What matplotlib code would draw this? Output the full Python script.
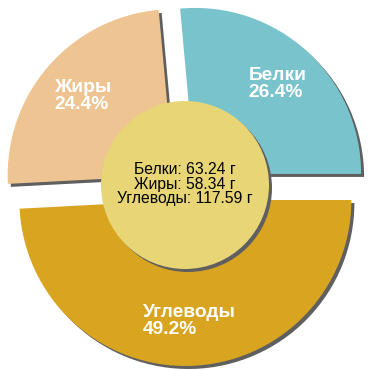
import matplotlib
matplotlib.use("Agg")
import matplotlib.pyplot as plt
from matplotlib.patches import Circle
import math

names = ["Белки", "Жиры", "Углеводы"]
grams = [63.24, 58.34, 117.59]
colors = ["#79c3cc", "#edc492", "#d9a521"]
center_color = "#e8d676"
shadow_color = "#5f5f5f"

plt.rcParams['font.family'] = ['Liberation Sans', 'DejaVu Sans']

fig = plt.figure(figsize=(3.7, 3.7), dpi=100)
ax = fig.add_axes([0, 0, 1, 1])

C = (185, 185)
R = 166
expl = [15, 15, 15]
sh = (3, -3)

# shadow
ax.pie(grams, colors=[shadow_color] * 3, explode=expl, radius=R,
       center=(C[0] + sh[0], C[1] + sh[1]), startangle=0,
       wedgeprops=dict(linewidth=0), frame=True)
wedges, _ = ax.pie(grams, colors=colors, explode=expl, radius=R, center=C,
                   startangle=0, wedgeprops=dict(linewidth=0), frame=True)

ax.set_xlim(0, 370)
ax.set_ylim(0, 370)
ax.set_aspect('equal')
ax.axis('off')

total = sum(grams)
for w, n, g in zip(wedges, names, grams):
    tm = math.radians((w.theta1 + w.theta2) / 2)
    cx, cy = w.center
    d = 0.73 * R
    ax.text(cx + d * math.cos(tm) + 1, cy + d * math.sin(tm),
            f"{n}\n{g / total * 100:.1f}%", ha='center', va='center',
            multialignment='left', color='white', fontweight='bold',
            fontsize=13.8, linespacing=1.0, zorder=5)

cr = 84
ax.add_patch(Circle((C[0] + sh[0], C[1] + sh[1]), cr, color=shadow_color,
                    linewidth=0, zorder=3))
ax.add_patch(Circle(C, cr, color=center_color, linewidth=0, zorder=4))

ctext = "\n".join(f"{n}: {g:.2f} г" for n, g in zip(names, grams))
ax.text(C[0], C[1] + 1, ctext, ha='center', va='center', fontsize=11.3,
        color='black', linespacing=0.98, zorder=6)

fig.savefig("out.png", dpi=100)
